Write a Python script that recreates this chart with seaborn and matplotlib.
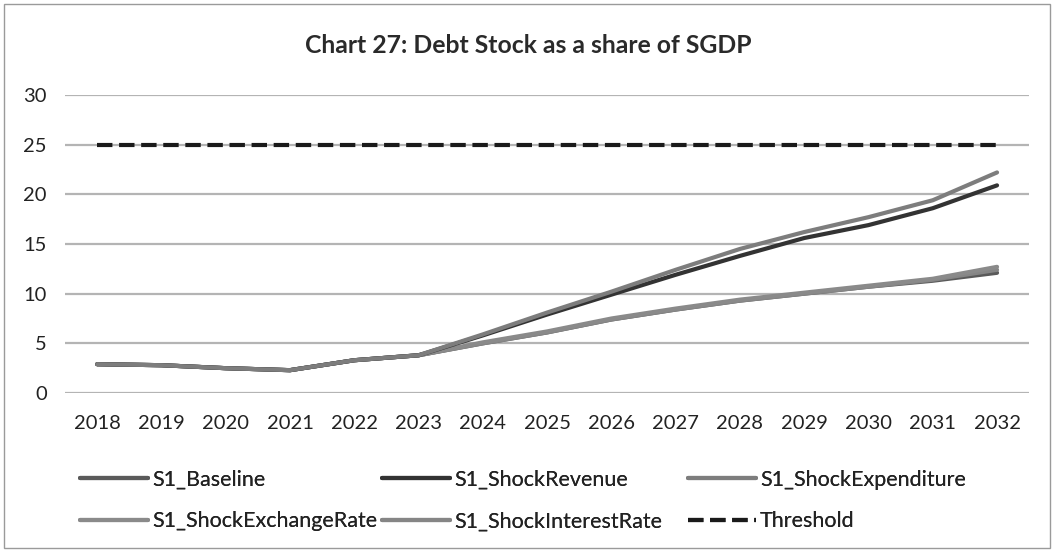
import matplotlib
matplotlib.use("Agg")
import matplotlib.pyplot as plt
from matplotlib.lines import Line2D
from matplotlib.patches import Rectangle
import seaborn as sns
import pandas as pd

years = [2018, 2019, 2020, 2021, 2022, 2023, 2024, 2025, 2026, 2027, 2028, 2029, 2030, 2031, 2032]

s1_baseline = [2.9, 2.8, 2.5, 2.3, 3.3, 3.8, 5.0, 6.1, 7.4, 8.4, 9.3, 10.0, 10.7, 11.3, 12.1]
s1_shock_revenue = [2.9, 2.8, 2.5, 2.3, 3.3, 3.8, 5.8, 7.9, 9.9, 11.9, 13.8, 15.6, 16.9, 18.6, 20.9]
s1_shock_expenditure = [2.9, 2.8, 2.5, 2.3, 3.3, 3.8, 5.9, 8.1, 10.2, 12.4, 14.5, 16.2, 17.7, 19.4, 22.2]
s1_shock_exchange_rate = [2.9, 2.8, 2.5, 2.3, 3.3, 3.8, 5.1, 6.2, 7.5, 8.5, 9.4, 10.1, 10.8, 11.5, 12.7]
s1_shock_interest_rate = [2.9, 2.8, 2.5, 2.3, 3.3, 3.8, 5.0, 6.1, 7.4, 8.4, 9.3, 10.0, 10.7, 11.4, 12.4]
threshold = [25] * len(years)

series_names = ["S1_Baseline", "S1_ShockRevenue", "S1_ShockExpenditure",
                "S1_ShockExchangeRate", "S1_ShockInterestRate", "Threshold"]
series_values = [s1_baseline, s1_shock_revenue, s1_shock_expenditure,
                 s1_shock_exchange_rate, s1_shock_interest_rate, threshold]
series_colors = ["#5a5a5a", "#333333", "#7d7d7d", "#8a8a8a", "#858585", "#1a1a1a"]
series_styles = ["-", "-", "-", "-", "-", "--"]

title = "Chart 27: Debt Stock as a share of SGDP"
y_ticks = [0, 5, 10, 15, 20, 25, 30]

sns.set_theme(style="white")
plt.rcParams["font.family"] = ["Lato", "DejaVu Sans"]

df = pd.DataFrame({"year": years})
for name, vals in zip(series_names, series_values):
    df[name] = vals
long_df = df.melt(id_vars="year", var_name="series", value_name="value")

fig = plt.figure(figsize=(10.56, 5.52), dpi=100)
fig.patch.set_facecolor("white")
ax = fig.add_axes([0.0616, 0.288, 0.913, 0.54])

# horizontal gridlines
for yv in y_ticks:
    ax.axhline(yv, color="#b4b4b4", linewidth=1.6, zorder=0)

draw_order = ["S1_Baseline", "S1_ShockInterestRate", "S1_ShockExchangeRate",
              "S1_ShockRevenue", "S1_ShockExpenditure", "Threshold"]
style_map = {n: (c, s) for n, c, s in zip(series_names, series_colors, series_styles)}
for name in draw_order:
    color, ls = style_map[name]
    sub = long_df[long_df["series"] == name]
    sns.lineplot(data=sub, x="year", y="value", ax=ax, color=color,
                 linewidth=3.0, linestyle=ls, legend=False,
                 solid_capstyle="round", dash_capstyle="butt", zorder=3)

ax.set_xlim(years[0] - 0.5, years[-1] + 0.5)
ax.set_ylim(0, 30)
ax.set_xticks(years)
ax.set_xticklabels([str(y) for y in years])
ax.set_yticks(y_ticks)
ax.set_xlabel("")
ax.set_ylabel("")
for sp in ax.spines.values():
    sp.set_visible(False)
ax.tick_params(axis="both", length=0, labelsize=14.5, colors="#222222")
ax.tick_params(axis="x", pad=16)
ax.tick_params(axis="y", pad=13)
ax.grid(False)

fig.text(0.5, 0.918, title, ha="center", va="center", fontsize=17.8,
         fontweight="bold", color="#2a2a2a")

# legend: one block per column, two rows each
handles = {}
for name in series_names:
    color, ls = style_map[name]
    handles[name] = Line2D([], [], color=color, linewidth=3.0, linestyle=ls)
legend_columns = [
    (["S1_Baseline", "S1_ShockExchangeRate"], 0.0758),
    (["S1_ShockRevenue", "S1_ShockInterestRate"], 0.3617),
    (["S1_ShockExpenditure", "Threshold"], 0.6515),
]
for names, x0 in legend_columns:
    leg = fig.legend([handles[n] for n in names], names, loc="upper left",
                     bbox_to_anchor=(x0, 0.149), frameon=False, fontsize=15.5,
                     handlelength=3.15, handletextpad=0.2, labelspacing=1.0,
                     labelcolor="#222222", borderpad=0, borderaxespad=0)
    fig.add_artist(leg)

# outer frame around the chart
fig.add_artist(Rectangle((0.004, 0.008), 0.99, 0.985, transform=fig.transFigure,
                         fill=False, edgecolor="#9a9a9a", linewidth=1.0))

fig.savefig("out.png", dpi=100)
